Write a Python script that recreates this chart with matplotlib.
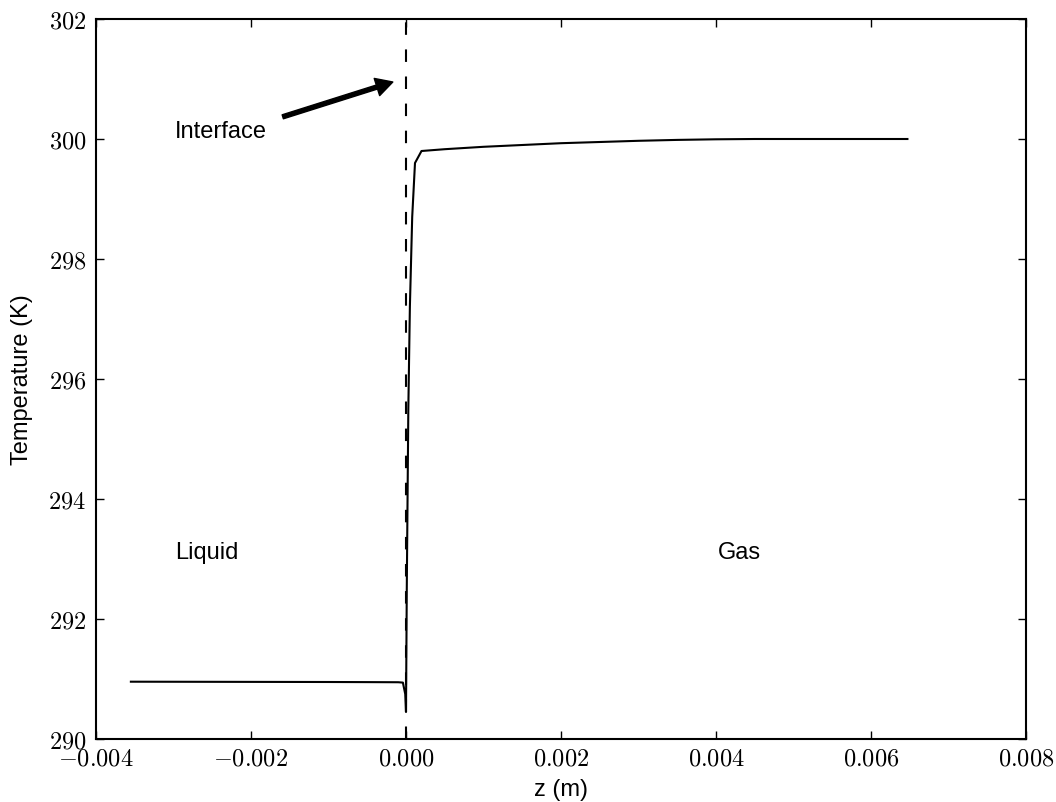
import matplotlib
matplotlib.use('Agg')
import matplotlib.pyplot as plt
from matplotlib.ticker import FuncFormatter

plt.rcParams['mathtext.fontset'] = 'cm'
plt.rcParams['font.family'] = ['Liberation Sans', 'DejaVu Sans']

# temperature profile across the interface
z = [-0.00355, -0.0030, -0.0025, -0.0020, -0.0015, -0.0010, -0.0005, -0.0001,
     -0.00004, -0.00001, 0.0, 0.00001, 0.00003, 0.00005, 0.00008, 0.000116,
     0.0002, 0.0005, 0.0010, 0.0015, 0.0020, 0.0025, 0.0030, 0.0035, 0.0040,
     0.0045, 0.0050, 0.0055, 0.0060, 0.00647]
T = [290.955, 290.954, 290.953, 290.952, 290.951, 290.950, 290.948, 290.946,
     290.94, 290.75, 290.45, 292.5, 295.5, 297.2, 298.7, 299.6,
     299.80, 299.83, 299.87, 299.90, 299.93, 299.95, 299.97, 299.985, 299.995,
     300.0, 300.0, 300.0, 300.0, 300.0]

xticks = [-0.004, -0.002, 0.000, 0.002, 0.004, 0.006, 0.008]
yticks = [290, 292, 294, 296, 298, 300, 302]

fig = plt.figure(figsize=(10.56, 8.03), dpi=100)
ax = fig.add_axes([96 / 1056, 1 - 740 / 803, 930 / 1056, 720 / 803])

ax.plot(z, T, 'k-', lw=1.5)
ax.axvline(0.0, color='k', ls='--', lw=1.5, dashes=(6, 7))

ax.annotate('', xy=(-0.00017, 300.95), xytext=(-0.00159, 300.37),
            arrowprops=dict(facecolor='black', edgecolor='black', width=3,
                            headwidth=13, headlength=12, shrink=0))
ax.text(-0.00298, 300.13, 'Interface', fontsize=17, va='center', ha='left')
ax.text(-0.00298, 293.12, 'Liquid', fontsize=17, va='center', ha='left')
ax.text(0.00403, 293.12, 'Gas', fontsize=17, va='center', ha='left')

ax.set_xlim(-0.004, 0.008)
ax.set_ylim(290, 302)
ax.set_xticks(xticks)
ax.set_yticks(yticks)
ax.xaxis.set_major_formatter(FuncFormatter(lambda v, p: r'$%.3f$' % v))
ax.yaxis.set_major_formatter(FuncFormatter(lambda v, p: r'$%d$' % round(v)))
ax.tick_params(direction='in', length=6, width=1, top=True, right=True,
               labelsize=17.5)
ax.tick_params(axis='x', pad=6)
ax.tick_params(axis='y', pad=7)
for s in ax.spines.values():
    s.set_linewidth(1.5)

ax.set_xlabel('z (m)', fontsize=17, labelpad=6)
ax.set_ylabel('Temperature (K)', fontsize=17, labelpad=11)

fig.savefig('out.png', dpi=100)
